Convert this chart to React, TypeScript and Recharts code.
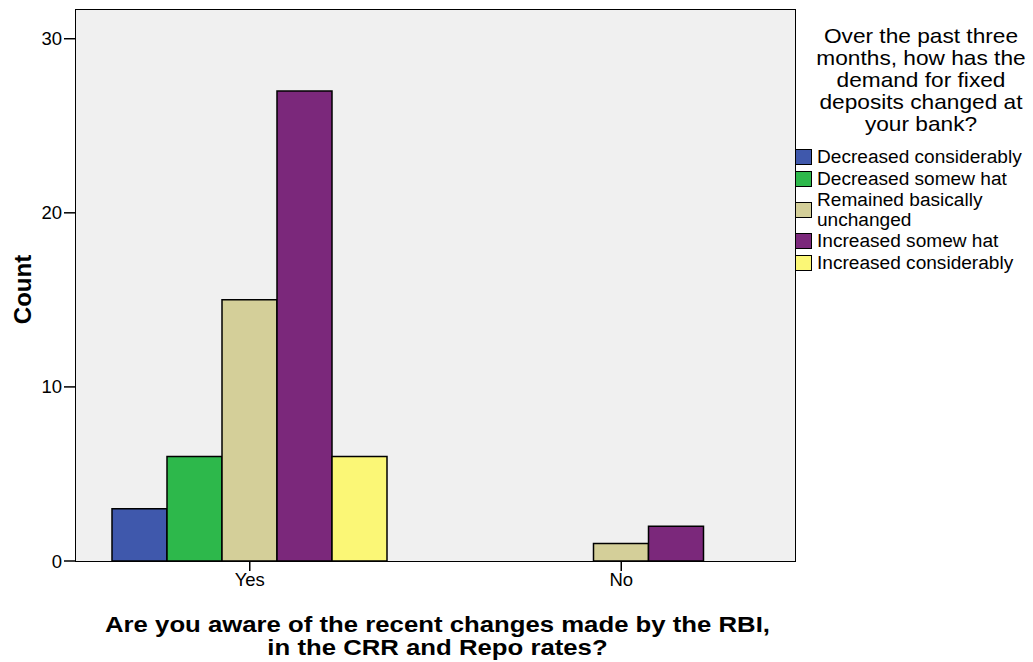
import { Bar, BarChart, CartesianGrid, Legend, XAxis, YAxis } from "recharts";

document.body.style.margin = "0";

const FONT = "'Liberation Sans', Arial, sans-serif";

const CATEGORIES = ["Yes", "No"];
const DECREASED_CONSIDERABLY = [3, 0];
const DECREASED_SOMEWHAT = [6, 0];
const REMAINED_UNCHANGED = [15, 1];
const INCREASED_SOMEWHAT = [27, 2];
const INCREASED_CONSIDERABLY = [6, 0];
const Y_TICKS = [0, 10, 20, 30];

const LEGEND_TITLE = [
  "Over the past three",
  "months, how has the",
  "demand for fixed",
  "deposits changed at",
  "your bank?",
];

const X_TITLE = [
  "Are you aware of the recent changes made by the RBI,",
  "in the CRR and Repo rates?",
];

const SERIES = [
  { key: "decCons", name: "Decreased considerably", lines: ["Decreased considerably"], color: "#3f58ac", values: DECREASED_CONSIDERABLY },
  { key: "decSome", name: "Decreased somew hat", lines: ["Decreased somew hat"], color: "#2db84b", values: DECREASED_SOMEWHAT },
  { key: "same", name: "Remained basically unchanged", lines: ["Remained basically", "unchanged"], color: "#d4cf99", values: REMAINED_UNCHANGED },
  { key: "incSome", name: "Increased somew hat", lines: ["Increased somew hat"], color: "#7b287b", values: INCREASED_SOMEWHAT },
  { key: "incCons", name: "Increased considerably", lines: ["Increased considerably"], color: "#fbf776", values: INCREASED_CONSIDERABLY },
];

const data = CATEGORIES.map((category, i) => {
  const row: Record<string, string | number> = { category };
  for (const s of SERIES) row[s.key] = s.values[i];
  return row;
});

// plot frame in page pixels
const PLOT = { left: 76, top: 10, right: 795, bottom: 561 };
const W = 1033;
const H = 662;

function FdLegend() {
  return (
    <div style={{ fontFamily: FONT, color: "#000", width: 238 }}>
      <div
        style={{
          textAlign: "center",
          fontSize: 21,
          lineHeight: "22px",
          width: 252,
          transform: "scaleX(1.08)",
          transformOrigin: "126px 0",
        }}
      >
        {LEGEND_TITLE.map((line) => (
          <div key={line}>{line}</div>
        ))}
      </div>
      <div style={{ marginTop: 11 }}>
        {SERIES.map((s) => (
          <div key={s.key} style={{ display: "flex", alignItems: "center", minHeight: 22 }}>
            <span
              style={{
                width: 15,
                height: 14,
                background: s.color,
                border: "1.5px solid #000",
                marginRight: 5,
                flexShrink: 0,
              }}
            />
            <span
              style={{
                fontSize: 18,
                lineHeight: "20px",
                textAlign: "left",
                transform: "scaleX(1.06)",
                transformOrigin: "0 0",
              }}
            >
              {s.lines.map((l) => (
                <div key={l}>{l}</div>
              ))}
            </span>
          </div>
        ))}
      </div>
    </div>
  );
}

export default function App() {
  const cx = (PLOT.left + PLOT.right) / 2;
  const cy = (PLOT.top + PLOT.bottom) / 2;
  return (
    <div style={{ position: "relative", width: W, height: H, background: "#fff" }}>
      <BarChart
        width={W}
        height={H}
        data={data}
        barGap={0}
        barSize={55}
        margin={{ top: PLOT.top, right: W - PLOT.right, bottom: H - PLOT.bottom - 30, left: PLOT.left - 60 }}
      >
        <CartesianGrid fill="#f0f0f0" horizontal={false} vertical={false} />
        <XAxis
          dataKey="category"
          height={30}
          padding={{ left: -12, right: -12 }}
          axisLine={false}
          tickLine={{ stroke: "#000", strokeWidth: 1.5 }}
          tickSize={10}
          tick={{ fill: "#000", fontSize: 18.5, fontFamily: FONT }}
          label={() => (
            <g transform={`translate(${cx + 2}, 0) scale(1.17, 1)`}>
              <text
                x={0}
                y={632}
                textAnchor="middle"
                fontFamily={FONT}
                fontWeight="bold"
                fontSize={22}
                fill="#000"
              >
                {X_TITLE[0]}
              </text>
              <text
                x={0}
                y={655}
                textAnchor="middle"
                fontFamily={FONT}
                fontWeight="bold"
                fontSize={22}
                fill="#000"
              >
                {X_TITLE[1]}
              </text>
            </g>
          )}
        />
        <YAxis
          width={60}
          domain={[0, 31.65]}
          ticks={Y_TICKS}
          axisLine={false}
          tickLine={{ stroke: "#000", strokeWidth: 1.5 }}
          tickSize={12}
          tick={{ fill: "#000", fontSize: 18.5, fontFamily: FONT }}
          label={() => (
            <text
              x={22}
              y={cy + 4}
              transform={`rotate(-90, 22, ${cy + 4})`}
              textAnchor="middle"
              dominantBaseline="central"
              fontFamily={FONT}
              fontWeight="bold"
              fontSize={24}
              fill="#000"
            >
              Count
            </text>
          )}
        />
        <Legend
          content={() => <FdLegend />}
          verticalAlign="middle"
          align="center"
          wrapperStyle={{ position: "absolute", left: PLOT.right, top: 25, width: 238 }}
        />
        {SERIES.map((s) => (
          <Bar
            key={s.key}
            dataKey={s.key}
            name={s.name}
            fill={s.color}
            stroke="#000"
            strokeWidth={1.5}
            legendType="square"
            isAnimationActive={false}
          />
        ))}
      </BarChart>
      <div
        style={{
          position: "absolute",
          left: PLOT.left - 1,
          top: PLOT.top - 1,
          width: PLOT.right - PLOT.left,
          height: PLOT.bottom - PLOT.top,
          border: "1.5px solid #000",
          pointerEvents: "none",
        }}
      />
    </div>
  );
}
